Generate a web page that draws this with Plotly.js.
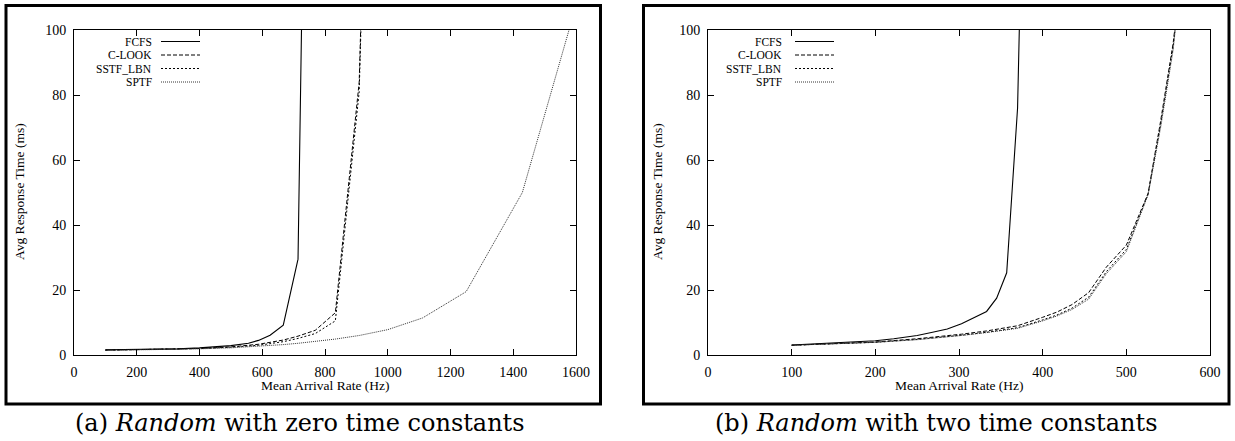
<!DOCTYPE html>
<html>
<head>
<meta charset="utf-8">
<script src="https://cdn.plot.ly/plotly-3.0.1.min.js"></script>
<style>html,body{margin:0;padding:0;background:#fff;}#chart{width:1235px;height:441px;}</style>
</head>
<body>
<div id="chart"></div>
<script>
// ---- Panel (a): Random with zero time constants ----
const fcfsA_x  = [100, 200, 333, 400, 500, 556, 588, 625, 667, 714, 769];
const fcfsA_y  = [1.6, 1.7, 1.9, 2.2, 2.9, 3.6, 4.5, 6.1, 9.2, 29.5, 380];
const clookA_x = [100, 200, 333, 400, 500, 556, 588, 625, 667, 714, 769, 833, 909, 1000];
const clookA_y = [1.5, 1.6, 1.8, 2.0, 2.5, 2.9, 3.3, 3.9, 4.6, 5.8, 7.6, 13.0, 84, 400];
const sstfA_x  = [100, 200, 333, 400, 500, 556, 588, 625, 667, 714, 769, 833, 909, 1000];
const sstfA_y  = [1.5, 1.6, 1.8, 2.0, 2.4, 2.7, 3.0, 3.5, 4.1, 5.1, 6.6, 10.5, 81, 400];
const sptfA_x  = [100, 200, 333, 400, 500, 556, 588, 625, 667, 714, 769, 833, 909, 1000, 1111, 1250, 1429, 1667];
const sptfA_y  = [1.4, 1.5, 1.7, 1.9, 2.2, 2.5, 2.7, 2.9, 3.2, 3.6, 4.1, 4.9, 6.0, 7.8, 11.4, 19.5, 50, 130];

// ---- Panel (b): Random with two time constants ----
const fcfsB_x  = [100, 125, 150, 175, 200, 222, 250, 267, 286, 303, 317, 333, 345, 357, 370, 385];
const fcfsB_y  = [3.1, 3.4, 3.7, 4.0, 4.4, 5.0, 6.0, 6.9, 8.0, 9.6, 11.3, 13.4, 17.5, 25.3, 76, 250];
const clookB_x = [100, 150, 200, 250, 286, 303, 333, 370, 400, 417, 435, 455, 476, 500, 526, 541, 556, 571];
const clookB_y = [3.0, 3.5, 4.0, 5.0, 5.9, 6.4, 7.4, 9.0, 11.6, 13.2, 15.5, 19.2, 27.0, 33.8, 49.7, 72, 96, 130];
const sstfB_x  = [100, 150, 200, 250, 286, 303, 333, 370, 400, 417, 435, 455, 476, 500, 526, 541, 556, 571];
const sstfB_y  = [3.0, 3.5, 3.9, 4.8, 5.6, 6.1, 7.0, 8.4, 10.8, 12.3, 14.4, 17.8, 25.6, 32.5, 49.5, 71, 95, 130];
const sptfB_x  = [100, 150, 200, 250, 286, 303, 333, 370, 400, 417, 435, 455, 476, 500, 526, 541, 556, 571];
const sptfB_y  = [3.0, 3.5, 3.9, 4.7, 5.5, 6.0, 6.9, 8.2, 10.5, 12.0, 14.0, 17.2, 25.0, 31.8, 49.3, 70, 94, 130];

const seriesNames = ["FCFS", "C-LOOK", "SSTF_LBN", "SPTF"];
const xTicksA = [0, 200, 400, 600, 800, 1000, 1200, 1400, 1600];
const xTicksB = [0, 100, 200, 300, 400, 500, 600];
const yTicks = [0, 20, 40, 60, 80, 100];
const captionA = "(a) <i>Random</i> with zero time constants";
const captionB = "(b) <i>Random</i> with two time constants";
const xTitle = "Mean Arrival Rate (Hz)";
const yTitle = "Avg Response Time (ms)";

const W = 1235, H = 441;
const px = x => x / W;
const py = y => 1 - y / H;

const styles = [
  {color: "#000", width: 1.1, dash: "solid"},
  {color: "#000", width: 1.0, dash: "4px,2px"},
  {color: "#000", width: 1.0, dash: "2px,2px"},
  {color: "#333", width: 1.0, dash: "1px,1px"}
];

const serif = "Liberation Serif, Times New Roman, serif";

function tr(x, y, i, xa, ya) {
  return {x: x, y: y, type: "scatter", mode: "lines", name: seriesNames[i],
    xaxis: xa, yaxis: ya, showlegend: false, hoverinfo: "skip",
    line: {color: styles[i].color, width: styles[i].width, dash: styles[i].dash}};
}

const data = [
  tr(fcfsA_x, fcfsA_y, 0, "x", "y"),
  tr(clookA_x, clookA_y, 1, "x", "y"),
  tr(sstfA_x, sstfA_y, 2, "x", "y"),
  tr(sptfA_x, sptfA_y, 3, "x", "y"),
  tr(fcfsB_x, fcfsB_y, 0, "x2", "y2"),
  tr(clookB_x, clookB_y, 1, "x2", "y2"),
  tr(sstfB_x, sstfB_y, 2, "x2", "y2"),
  tr(sptfB_x, sptfB_y, 3, "x2", "y2")
];

function axisCommon(extra) {
  return Object.assign({
    showgrid: false, zeroline: false, showline: true, linecolor: "#000", linewidth: 1,
    mirror: "ticks", ticks: "inside", ticklen: 6, tickwidth: 1, tickcolor: "#000",
    tickfont: {family: serif, size: 14, color: "#000"}, fixedrange: true
  }, extra);
}

const yDom = [py(355), py(30)];
const layout = {
  width: W, height: H,
  margin: {l: 0, r: 0, t: 0, b: 0},
  paper_bgcolor: "#fff", plot_bgcolor: "#fff",
  showlegend: false,
  xaxis: axisCommon({domain: [px(74), px(576)], range: [0, 1600], tickvals: xTicksA, anchor: "y", ticklabelstandoff: 4}),
  yaxis: axisCommon({domain: yDom, range: [0, 100], tickvals: yTicks, anchor: "x", ticklabelstandoff: 4}),
  xaxis2: axisCommon({domain: [px(708), px(1210)], range: [0, 600], tickvals: xTicksB, anchor: "y2", ticklabelstandoff: 4}),
  yaxis2: axisCommon({domain: yDom, range: [0, 100], tickvals: yTicks, anchor: "x2", ticklabelstandoff: 4}),
  shapes: [],
  annotations: []
};

// frames around panels
layout.shapes.push({type: "rect", xref: "paper", yref: "paper", x0: px(6), x1: px(600.5), y0: py(404), y1: py(5.5), line: {color: "#000", width: 3}});
layout.shapes.push({type: "rect", xref: "paper", yref: "paper", x0: px(643.5), x1: px(1229), y0: py(404), y1: py(5.5), line: {color: "#000", width: 3}});

// legends (gnuplot style: label right-aligned, sample to the right)
const legendRows = [41.5, 55, 68.5, 82];
function addLegend(textRight, lineX0, lineX1) {
  seriesNames.forEach((n, i) => {
    layout.annotations.push({xref: "paper", yref: "paper", x: px(textRight), y: py(legendRows[i]),
      xanchor: "right", yanchor: "middle", showarrow: false, text: n, borderpad: 0,
      font: {family: serif, size: 11.5, color: "#000"}});
    layout.shapes.push({type: "line", xref: "paper", yref: "paper", x0: px(lineX0), x1: px(lineX1),
      y0: py(legendRows[i]), y1: py(legendRows[i]),
      line: {color: styles[i].color, width: styles[i].width, dash: styles[i].dash}});
  });
}
addLegend(153, 161, 200);
addLegend(783, 795, 834);

// axis titles
function addTitles(xc, yx) {
  layout.annotations.push({xref: "paper", yref: "paper", x: px(xc), y: py(385), xanchor: "center", yanchor: "middle",
    showarrow: false, text: xTitle, font: {family: serif, size: 13.5, color: "#000"}});
  layout.annotations.push({xref: "paper", yref: "paper", x: px(yx), y: py(192), xanchor: "center", yanchor: "middle",
    showarrow: false, textangle: -90, text: yTitle, font: {family: serif, size: 13.5, color: "#000"}});
}
addTitles(325, 19);
addTitles(959, 657);

// captions
layout.annotations.push({xref: "paper", yref: "paper", x: px(300), y: py(423), xanchor: "center", yanchor: "middle",
  showarrow: false, text: captionA, font: {family: "DejaVu Serif, serif", size: 24, color: "#000"}});
layout.annotations.push({xref: "paper", yref: "paper", x: px(936), y: py(423), xanchor: "center", yanchor: "middle",
  showarrow: false, text: captionB, font: {family: "DejaVu Serif, serif", size: 24, color: "#000"}});

Plotly.newPlot("chart", data, layout, {staticPlot: true, displayModeBar: false});
</script>
</body>
</html>
